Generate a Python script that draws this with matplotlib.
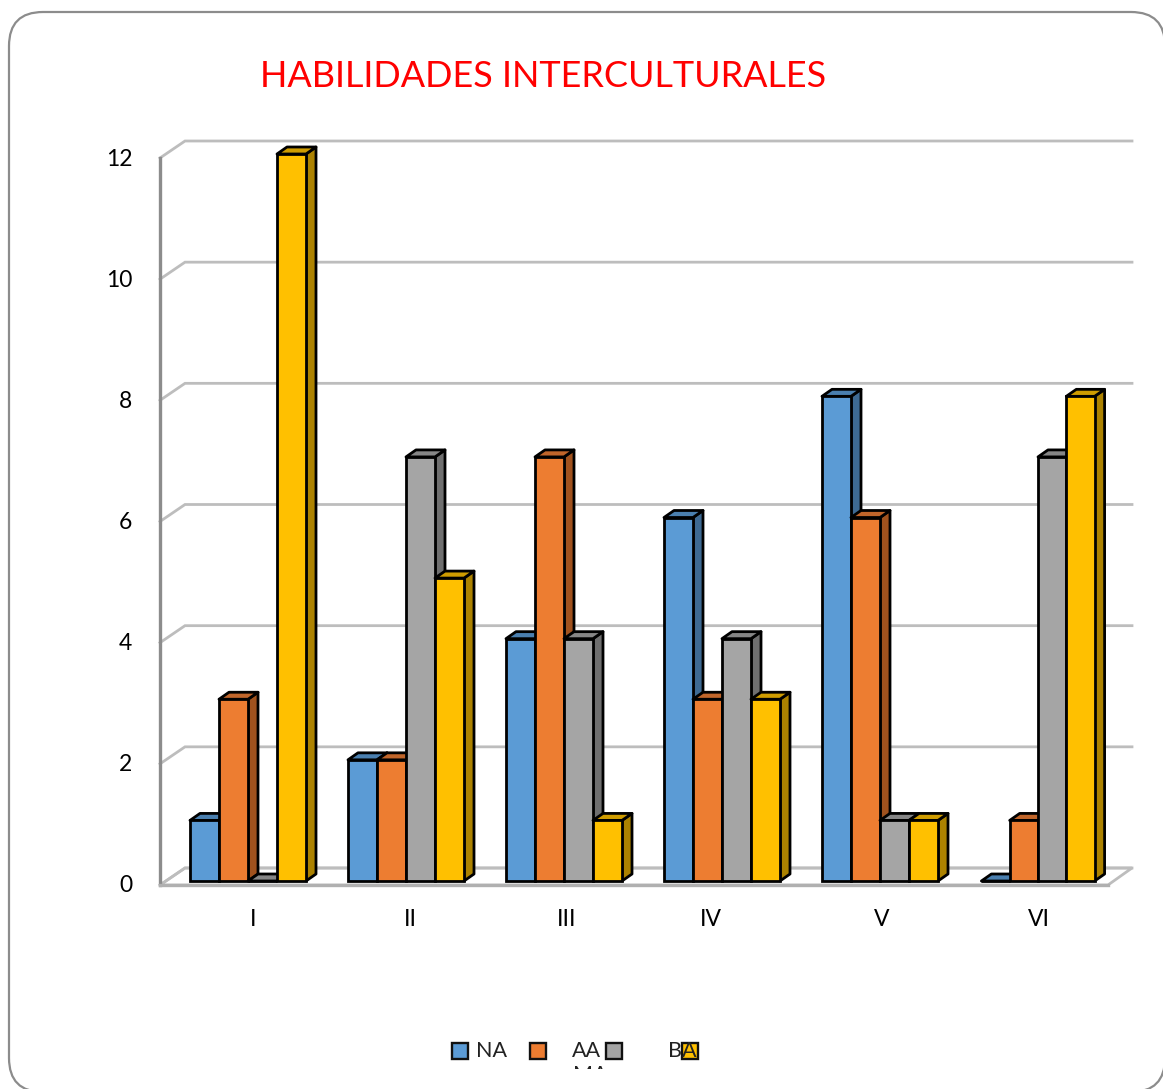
import numpy as np
import matplotlib
matplotlib.use("Agg")
import matplotlib.pyplot as plt
from matplotlib.patches import FancyBboxPatch, Polygon, Rectangle
from matplotlib.transforms import ScaledTranslation

plt.rcParams["font.family"] = ["Lato", "DejaVu Sans"]

# data
categorias = ["I", "II", "III", "IV", "V", "VI"]
na = [1, 2, 4, 6, 8, 0]
aa = [3, 2, 7, 3, 6, 1]
ma = [0, 7, 4, 4, 1, 7]
ba = [12, 5, 1, 3, 1, 8]
series = [na, aa, ma, ba]
leyenda = ["NA", "AA", "MA", "BA"]

# front / top / side colours per series
frente = ["#5B9BD5", "#ED7D31", "#A5A5A5", "#FFC000"]
arriba = ["#4A7FAF", "#C0652A", "#868686", "#CF9C00"]
lado = ["#3E6A93", "#A0521E", "#6F6F6F", "#AC8200"]

W, H = 1163, 1089
fig = plt.figure(figsize=(W / 100, H / 100), dpi=100)

# page layer in pixel coordinates: frame, title, legend
bg = fig.add_axes([0, 0, 1, 1], zorder=0)
bg.set_xlim(0, W)
bg.set_ylim(H, 0)
bg.axis("off")
bg.add_patch(FancyBboxPatch((9, 12), 1165 - 9, 1092 - 12, boxstyle="round,pad=0,rounding_size=34",
                            fc="white", ec="#8C8C8C", lw=1.6, clip_on=True))

# 158 px per category, 60.6 px per unit
ax = fig.add_axes([160 / W, 1 - 881 / H, 948 / W, 727 / H], zorder=1)
x0 = -88 / 158
ax.set_xlim(x0, x0 + 6)
ax.set_ylim(0, 12)
ax.patch.set_alpha(0)
for s in ax.spines.values():
    s.set_visible(False)
ux, uy = 1 / 158, 12 / 727  # data units of one pixel

# walls and floor
xl, xr = x0, x0 + 6
fy0, by0 = -4 * uy, 13 * uy
ddx = 25 * ux
ax.add_patch(Polygon([(xl, fy0), (xr, fy0), (xr + 24 * ux, by0), (xl + ddx, by0)],
                     closed=True, fc="white", ec="#BDBDBD", lw=2, clip_on=False, zorder=1))
for v in range(0, 14, 2):
    ax.plot([xl, xl + ddx, xr + 24 * ux], [v + fy0, v + by0, v + by0], color="#BDBDBD", lw=2,
            clip_on=False, zorder=1, solid_joinstyle="miter")
ax.plot([xl, xl], [fy0, 12 + fy0], color="#8C8C8C", lw=2.4, clip_on=False, zorder=2)
ax.plot([xl, xr], [fy0, fy0], color="#B0B0B0", lw=2.4, clip_on=False, zorder=2)

# 3D bars, last group comes out a little narrower in the original
anchos = [29, 29, 29, 29, 29, 28.3]
dx, dy = 10 * ux, 7 * uy
lw_barra = 2.0
borde = dict(ec="black", lw=lw_barra, joinstyle="round", clip_on=False)
z = 3
for i in range(len(categorias)):
    ancho = anchos[i] * ux
    for k, vals in enumerate(series):
        v = vals[i]
        left = i + (k - 2) * ancho
        right = left + ancho
        ax.add_patch(Polygon([(right, 0), (right + dx, dy), (right + dx, v + dy), (right, v)],
                             closed=True, fc=lado[k], zorder=z, **borde))
        ax.add_patch(Polygon([(left, v), (left + dx, v + dy), (right + dx, v + dy), (right, v)],
                             closed=True, fc=arriba[k], zorder=z, **borde))
        ax.bar(left, v, width=ancho, align="edge", color=frente[k], edgecolor="black",
               linewidth=lw_barra, zorder=z + 0.5, clip_on=False)
        z += 1

# axis labels
ax.set_yticks(range(0, 14, 2))
ax.set_xticks(range(len(categorias)))
ax.set_xticklabels(categorias)
ax.tick_params(length=0, labelsize=16.5, colors="black")
ax.tick_params(axis="y", pad=20)
ax.tick_params(axis="x", pad=20)
for lab in ax.get_yticklabels():
    lab.set_transform(lab.get_transform() + ScaledTranslation(0, -3 / 100, fig.dpi_scale_trans))
x_shift = [5, 4, 3, -11, 2, 1]
for lab, sh in zip(ax.get_xticklabels(), x_shift):
    lab.set_transform(lab.get_transform() + ScaledTranslation(sh / 100, 0, fig.dpi_scale_trans))

# title
bg.text(260, 87, "HABILIDADES INTERCULTURALES", color="#FF0000", fontsize=25.9, ha="left", va="baseline")

# legend, laid out by hand: the labels overlap the swatches
sw_x = [452, 530, 606, 682]
tx_x = [476, 572, 573, 668]
tx_y = [1057, 1057, 1081, 1057]
for k, nombre in enumerate(leyenda):
    bg.add_patch(Rectangle((sw_x[k], 1043), 16, 16, fc=frente[k], ec="#111111", lw=1.7))
    t = bg.text(tx_x[k], tx_y[k], nombre, fontsize=15.5, color="#222222", ha="left", va="baseline", zorder=5)
    if nombre == "MA":
        # only the top of this label shows in the original
        t.set_clip_path(Rectangle((0, 0), W, 1069, transform=bg.transData))
        t.set_clip_on(True)

fig.savefig("out.png", dpi=100)
